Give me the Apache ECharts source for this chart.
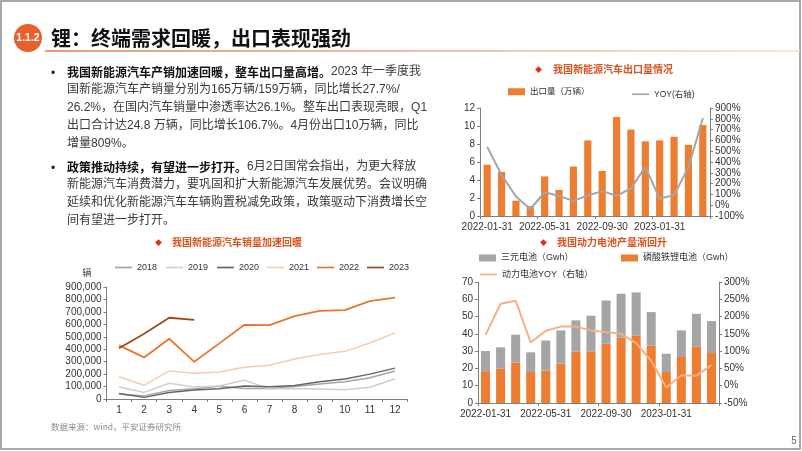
<!DOCTYPE html>
<html>
<head>
<meta charset="utf-8">
<script src="https://cdn.jsdelivr.net/npm/echarts@6/dist/echarts.min.js"></script>
<style>
html,body{margin:0;padding:0;background:#fff;}
#c{width:802px;height:451px;}
</style>
</head>
<body>
<div id="c"></div>
<script>
// ---- Chart A: NEV exports ----
var exportDates = ['2022-01-31','2022-02-28','2022-03-31','2022-04-30','2022-05-31','2022-06-30','2022-07-31','2022-08-31','2022-09-30','2022-10-31','2022-11-30','2022-12-31','2023-01-31','2023-02-28','2023-03-31','2023-04-30'];
var exportVolume = [5.7, 4.9, 1.7, 1.1, 4.4, 2.9, 5.5, 8.4, 5.0, 11.0, 9.6, 8.3, 8.4, 8.8, 7.9, 10.1];
var exportYoy = [540, 280, 80, -35, 120, 85, 40, 90, 130, 87, 155, 355, 60, 95, 350, 805];
var exportLeftTicks = [0, 12, 2];
var exportRightTicks = [-100, 900, 100];

// ---- Chart B: NEV monthly sales ----
var months = ['1','2','3','4','5','6','7','8','9','10','11','12'];
var sales2018 = [40000, 25000, 68000, 82000, 102000, 84000, 84000, 101000, 121000, 138000, 170000, 225000];
var sales2019 = [96000, 53000, 126000, 97000, 104000, 152000, 80000, 85000, 80000, 75000, 95000, 163000];
var sales2020 = [44000, 13000, 53000, 72000, 82000, 104000, 98000, 109000, 138000, 160000, 200000, 248000];
var sales2021 = [179000, 110000, 226000, 206000, 217000, 256000, 271000, 321000, 357000, 383000, 450000, 531000];
var sales2022 = [431000, 334000, 484000, 299000, 447000, 596000, 593000, 666000, 708000, 714000, 786000, 814000];
var sales2023 = [408000, 525000, 653000, 636000];
var salesTicks = [0, 900000, 100000];

// ---- Chart C: power battery output ----
var batteryDates = exportDates.slice();
var ternaryGwh = [11.7, 12.2, 16.0, 11.4, 17.5, 19.3, 17.9, 20.6, 25.0, 25.4, 25.1, 19.3, 10.6, 15.4, 18.8, 18.5];
var lfpGwh = [18.4, 20.0, 23.5, 17.9, 18.7, 22.7, 29.9, 29.9, 34.3, 37.8, 38.9, 33.3, 17.9, 26.6, 32.8, 28.9];
var batteryYoy = [147, 237, 246, 125, 159, 171, 171, 160, 155, 150, 123, 72, -5, 30, 29, 60];
var batteryLeftTicks = [0, 70, 10];
var batteryRightTicks = [-50, 300, 50];

var FONT = "'Liberation Sans', Arial, 'Noto Sans CJK SC', sans-serif";
var CJK = "'Noto Sans CJK SC', sans-serif";
var AX = '#7f7f7f';
var LBL = '#333';
var LINE_ICON = 'path://M0,0H20V2H0Z';

var chart = echarts.init(document.getElementById('c'), null, {renderer: 'canvas'});

function catAxis(gridIndex, data, interval, fs) {
  return {
    type: 'category', gridIndex: gridIndex, data: data,
    axisLine: {lineStyle: {color: AX, width: 1}},
    axisTick: {show: true, length: 3, lineStyle: {color: AX}},
    axisLabel: {interval: interval, color: LBL, fontSize: fs, fontFamily: FONT, margin: 6},
    splitLine: {show: false}
  };
}
function valAxis(gridIndex, t, pos, fmt, fs) {
  return {
    type: 'value', gridIndex: gridIndex, position: pos,
    min: t[0], max: t[1], interval: t[2],
    axisLine: {show: true, lineStyle: {color: AX, width: 1}},
    axisTick: {show: true, length: 3, lineStyle: {color: AX}},
    axisLabel: {color: LBL, fontSize: fs, fontFamily: FONT, margin: 5, formatter: fmt},
    splitLine: {show: false}
  };
}
function fmtThousands(v) { return String(v).replace(/\B(?=(\d{3})+(?!\d))/g, ','); }
function fmtPct(v) { return v + '%'; }

function legendItem(name, left, top, isBar, fs) {
  return {
    data: [name], left: left, top: top, orient: 'horizontal',
    icon: isBar ? 'rect' : LINE_ICON,
    itemWidth: 17, itemHeight: isBar ? 7 : 2, itemGap: 4, padding: 0,
    selectedMode: false,
    textStyle: {fontSize: fs || 9, color: '#333', fontFamily: FONT}
  };
}

var paraBold = {fontSize: 12, fontWeight: 'bold', fill: '#111', fontFamily: CJK};
var paraNorm = {fontSize: 12, fill: '#3a3a3a', fontFamily: FONT};

function paraLine(y, rich) {
  return {type: 'text', left: 67, top: y - 8, style: {text: rich, rich: {b: paraBold, n: paraNorm}, fontSize: 12, fontFamily: FONT}};
}
function chartTitle(xd, xt, y, txt) {
  return [
    {type: 'text', x: xd, y: y, style: {text: '◆', fill: '#e0301e', fontSize: 7, verticalAlign: 'middle', fontFamily: CJK}},
    {type: 'text', x: xt, y: y, style: {text: txt, fill: '#d9541e', fontSize: 10, fontWeight: 'bold', verticalAlign: 'middle', fontFamily: CJK}}
  ];
}

var graphics = [
  {type: 'rect', shape: {x: 1, y: 1, width: 799, height: 448}, style: {fill: 'none', stroke: '#8c8c8c', lineWidth: 1.5}},
  {type: 'line', shape: {x1: 45, y1: 51, x2: 800, y2: 51}, style: {stroke: new echarts.graphic.LinearGradient(0, 0, 1, 0, [{offset: 0, color: '#e27a43'}, {offset: 1, color: '#f7dccb'}]), lineWidth: 1.5}},
  {type: 'circle', shape: {cx: 28, cy: 38, r: 14}, style: {fill: '#e8612c'}},
  {type: 'text', x: 28, y: 38, style: {text: '1.1.2', fill: '#fff', fontSize: 10.5, fontWeight: 'bold', fontFamily: FONT, align: 'center', verticalAlign: 'middle'}},
  {type: 'text', x: 51, y: 38, style: {text: '锂：终端需求回暖，出口表现强劲', fill: '#111', fontSize: 20, fontWeight: 'bold', fontFamily: CJK, verticalAlign: 'middle'}},
  {type: 'text', x: 51, y: 74, style: {text: '•', fill: '#222', fontSize: 12, fontFamily: FONT, verticalAlign: 'middle'}},
  {type: 'text', x: 51, y: 169, style: {text: '•', fill: '#222', fontSize: 12, fontFamily: FONT, verticalAlign: 'middle'}},
  paraLine(74, '{b|我国新能源汽车产销加速回暖，整车出口量高增。}{n|2023 年一季度我}'),
  paraLine(92, '{n|国新能源汽车产销量分别为165万辆/159万辆，同比增长27.7%/}'),
  paraLine(110, '{n|26.2%，在国内汽车销量中渗透率达26.1%。整车出口表现亮眼，Q1}'),
  paraLine(128, '{n|出口合计达24.8 万辆，同比增长106.7%。4月份出口10万辆，同比}'),
  paraLine(146, '{n|增量809%。}'),
  paraLine(169, '{b|政策推动持续，有望进一步打开。}{n|6月2日国常会指出，为更大释放}'),
  paraLine(187, '{n|新能源汽车消费潜力，要巩固和扩大新能源汽车发展优势。会议明确}'),
  paraLine(205, '{n|延续和优化新能源汽车车辆购置税减免政策，政策驱动下消费增长空}'),
  paraLine(223, '{n|间有望进一步打开。}'),
  {type: 'text', x: 87, y: 273, style: {text: '辆', fill: '#333', fontSize: 9, align: 'center', verticalAlign: 'middle', fontFamily: CJK}},
  {type: 'text', x: 51, y: 427, style: {text: '数据来源：wind，平安证券研究所', fill: '#8a8a8a', fontSize: 8.5, verticalAlign: 'middle', fontFamily: CJK}},
  {type: 'text', x: 794, y: 441, style: {text: '5', fill: '#666', fontSize: 10, align: 'center', verticalAlign: 'middle', fontFamily: FONT}}
].concat(chartTitle(535, 553, 69, '我国新能源汽车出口量情况'))
 .concat(chartTitle(155, 172, 242, '我国新能源汽车销量加速回暖'))
 .concat(chartTitle(540, 557, 242, '我国动力电池产量渐回升'));

var option = {
  animation: false,
  backgroundColor: '#fff',
  textStyle: {fontFamily: FONT},
  grid: [
    {left: 480, top: 108, width: 230, height: 108},
    {left: 106.5, top: 287, width: 301, height: 112},
    {left: 478, top: 282, width: 241, height: 121}
  ],
  xAxis: [
    catAxis(0, exportDates, 3, 10),
    catAxis(1, months, 0, 10),
    catAxis(2, batteryDates, 3, 10)
  ],
  yAxis: [
    valAxis(0, exportLeftTicks, 'left', null, 10),
    valAxis(0, exportRightTicks, 'right', fmtPct, 10),
    valAxis(1, salesTicks, 'left', fmtThousands, 10),
    valAxis(2, batteryLeftTicks, 'left', null, 10),
    valAxis(2, batteryRightTicks, 'right', fmtPct, 10)
  ],
  legend: [
    legendItem('出口量（万辆）', 508, 87.5, true, 8.5),
    legendItem('YOY(右轴)', 632, 90, false, 8.5),
    legendItem('2018', 115, 263, false),
    legendItem('2019', 166, 263, false),
    legendItem('2020', 217, 263, false),
    legendItem('2021', 267, 263, false),
    legendItem('2022', 317, 263, false),
    legendItem('2023', 367, 263, false),
    legendItem('三元电池（Gwh）', 479, 253.5, true),
    legendItem('磷酸铁锂电池（Gwh）', 621, 253.5, true),
    legendItem('动力电池YOY（右轴）', 480, 270, false)
  ],
  series: [
    {name: '出口量（万辆）', type: 'bar', xAxisIndex: 0, yAxisIndex: 0, data: exportVolume, barWidth: '50%', itemStyle: {color: '#ed7d31'}},
    {name: 'YOY(右轴)', type: 'line', xAxisIndex: 0, yAxisIndex: 1, data: exportYoy, symbol: 'none', lineStyle: {color: '#a5a5a5', width: 2}, itemStyle: {color: '#a5a5a5'}},
    {name: '2018', type: 'line', xAxisIndex: 1, yAxisIndex: 2, data: sales2018, symbol: 'none', lineStyle: {color: '#a5a5a5', width: 1.5}, itemStyle: {color: '#a5a5a5'}},
    {name: '2019', type: 'line', xAxisIndex: 1, yAxisIndex: 2, data: sales2019, symbol: 'none', lineStyle: {color: '#cfcfcf', width: 1.5}, itemStyle: {color: '#cfcfcf'}},
    {name: '2020', type: 'line', xAxisIndex: 1, yAxisIndex: 2, data: sales2020, symbol: 'none', lineStyle: {color: '#666666', width: 1.5}, itemStyle: {color: '#666666'}},
    {name: '2021', type: 'line', xAxisIndex: 1, yAxisIndex: 2, data: sales2021, symbol: 'none', lineStyle: {color: '#f8cbad', width: 1.5}, itemStyle: {color: '#f8cbad'}},
    {name: '2022', type: 'line', xAxisIndex: 1, yAxisIndex: 2, data: sales2022, symbol: 'none', lineStyle: {color: '#e8772e', width: 1.8}, itemStyle: {color: '#e8772e'}},
    {name: '2023', type: 'line', xAxisIndex: 1, yAxisIndex: 2, data: sales2023, symbol: 'none', lineStyle: {color: '#9c4a1a', width: 1.8}, itemStyle: {color: '#9c4a1a'}},
    {name: '磷酸铁锂电池（Gwh）', type: 'bar', stack: 'bat', xAxisIndex: 2, yAxisIndex: 3, data: lfpGwh, barWidth: '60%', itemStyle: {color: '#ed7d31'}},
    {name: '三元电池（Gwh）', type: 'bar', stack: 'bat', xAxisIndex: 2, yAxisIndex: 3, data: ternaryGwh, barWidth: '60%', itemStyle: {color: '#a5a5a5'}},
    {name: '动力电池YOY（右轴）', type: 'line', xAxisIndex: 2, yAxisIndex: 4, data: batteryYoy, symbol: 'none', lineStyle: {color: '#f4b183', width: 2}, itemStyle: {color: '#f4b183'}}
  ],
  graphic: graphics
};
chart.setOption(option);
</script>
</body>
</html>
